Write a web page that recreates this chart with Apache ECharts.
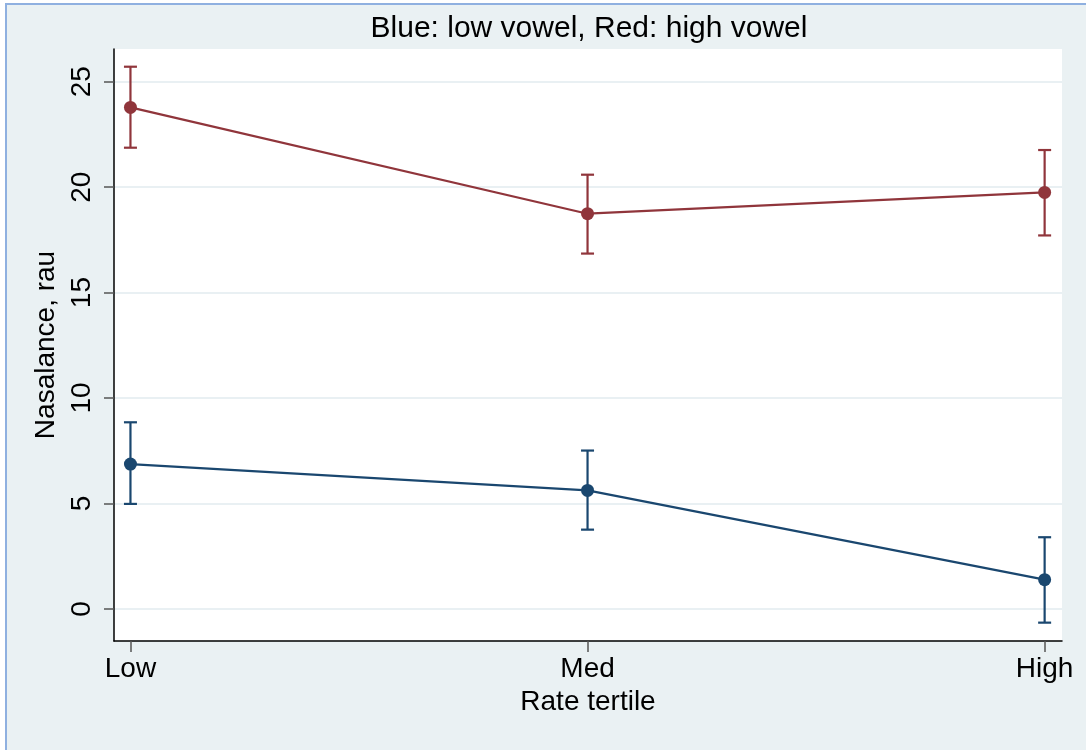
<!DOCTYPE html>
<html>
<head>
<meta charset="utf-8">
<title>Nasalance by rate tertile</title>
<script src="https://cdn.jsdelivr.net/npm/echarts@6/dist/echarts.min.js"></script>
<style>
  html, body { margin: 0; padding: 0; background: #ffffff; }
  #chart { width: 1086px; height: 750px; }
</style>
</head>
<body>
<div id="chart"></div>
<script>
// Rate tertiles on the x axis
const categories = ['Low', 'Med', 'High'];
const yTicks = [0, 5, 10, 15, 20, 25];

// Low vowel (blue): mean and 95% CI
const lowMean  = [6.87, 5.62, 1.39];
const lowLower = [4.98, 3.76, -0.65];
const lowUpper = [8.85, 7.51, 3.40];

// High vowel (red): mean and 95% CI
const highMean  = [23.78, 18.74, 19.75];
const highLower = [21.87, 16.85, 17.71];
const highUpper = [25.71, 20.59, 21.76];

const NAVY = '#1a476f';
const MAROON = '#90353b';
const FONT = '"Liberation Sans", Arial, sans-serif';

function pointsOf(means) {
  return means.map((m, i) => [i, m]);
}
function ciOf(lower, upper) {
  return lower.map((lo, i) => [i, lo, upper[i]]);
}

// Vertical CI whisker with end caps at each tertile
function ciSeries(lower, upper, color) {
  return {
    type: 'custom',
    silent: true,
    z: 3,
    data: ciOf(lower, upper),
    encode: { x: 0, y: [1, 2] },
    renderItem: function (params, api) {
      const x = api.value(0);
      const lo = api.coord([x, api.value(1)]);
      const hi = api.coord([x, api.value(2)]);
      const half = 6.5;
      const style = { stroke: color, lineWidth: 2.2 };
      return {
        type: 'group',
        children: [
          { type: 'line', shape: { x1: lo[0], y1: lo[1], x2: hi[0], y2: hi[1] }, style: style },
          { type: 'line', shape: { x1: lo[0] - half, y1: lo[1], x2: lo[0] + half, y2: lo[1] }, style: style },
          { type: 'line', shape: { x1: hi[0] - half, y1: hi[1], x2: hi[0] + half, y2: hi[1] }, style: style }
        ]
      };
    }
  };
}

// Connected means with filled circle markers
function meanSeries(means, color) {
  return {
    type: 'line',
    silent: true,
    z: 4,
    data: pointsOf(means),
    symbol: 'circle',
    symbolSize: 13,
    lineStyle: { color: color, width: 2.2 },
    itemStyle: { color: color },
    animation: false
  };
}

const chart = echarts.init(document.getElementById('chart'), null, { renderer: 'canvas' });

chart.setOption({
  animation: false,
  backgroundColor: '#ffffff',
  textStyle: { fontFamily: FONT },
  graphic: [
    {
      type: 'rect',
      z: -10,
      silent: true,
      shape: { x: 6, y: 4, width: 1100, height: 800 },
      style: { fill: '#eaf1f3', stroke: '#8fb0e0', lineWidth: 2 }
    }
  ],
  title: {
    text: 'Blue: low vowel, Red: high vowel',
    left: 584,
    top: 9,
    textAlign: 'center',
    textStyle: { fontFamily: FONT, fontSize: 30, fontWeight: 'normal', color: '#000000' }
  },
  grid: {
    left: 114,
    top: 49,
    right: 24,
    bottom: 109,
    show: true,
    backgroundColor: '#ffffff',
    borderWidth: 0
  },
  xAxis: {
    type: 'value',
    min: -0.036,
    max: 2.038,
    name: 'Rate tertile',
    nameLocation: 'middle',
    nameGap: 46,
    nameTextStyle: { fontFamily: FONT, fontSize: 28, color: '#000000' },
    axisLine: { show: true, onZero: false, lineStyle: { color: '#000000', width: 1.5 } },
    axisTick: { show: true, inside: false, length: 11, customValues: [0, 1, 2], lineStyle: { color: '#555555', width: 1.5 } },
    axisLabel: {
      customValues: [0, 1, 2],
      margin: 14,
      fontFamily: FONT,
      fontSize: 28,
      color: '#000000',
      formatter: function (v) { return categories[Math.round(v)]; }
    },
    splitLine: { show: false }
  },
  yAxis: {
    type: 'value',
    min: -1.52,
    max: 26.55,
    name: 'Nasalance, rau',
    nameLocation: 'middle',
    nameRotate: 90,
    nameGap: 47,
    nameTextStyle: { fontFamily: FONT, fontSize: 28, color: '#000000' },
    axisLine: { show: true, onZero: false, lineStyle: { color: '#000000', width: 1.5 } },
    axisTick: { show: true, inside: false, length: 10, customValues: yTicks, lineStyle: { color: '#555555', width: 1.5 } },
    axisLabel: {
      customValues: yTicks,
      rotate: 90,
      margin: 18,
      fontFamily: FONT,
      fontSize: 28,
      color: '#000000'
    },
    splitLine: { show: true, lineStyle: { color: '#e9f0f3', width: 2 } }
  },
  series: [
    ciSeries(highLower, highUpper, MAROON),
    meanSeries(highMean, MAROON),
    ciSeries(lowLower, lowUpper, NAVY),
    meanSeries(lowMean, NAVY)
  ]
});
</script>
</body>
</html>
